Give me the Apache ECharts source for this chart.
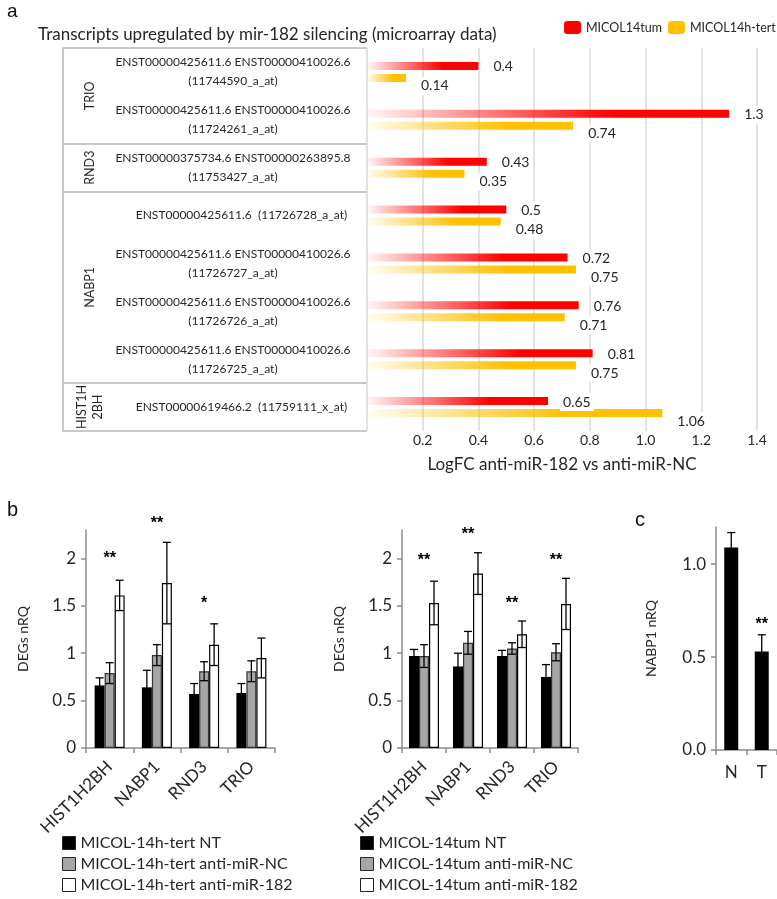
<!DOCTYPE html>
<html>
<head>
<meta charset="utf-8">
<script src="https://cdn.jsdelivr.net/npm/echarts@6/dist/echarts.min.js"></script>
<style>
html, body { margin: 0; padding: 0; background: #fff; }
#main { width: 777px; height: 899px; }
</style>
</head>
<body>
<div id="main"></div>
<script>
// panel a: microarray logFC
var transcripts = [
    'ENST00000425611.6 ENST00000410026.6\n(11744590_a_at)',
    'ENST00000425611.6 ENST00000410026.6\n(11724261_a_at)',
    'ENST00000375734.6 ENST00000263895.8\n(11753427_a_at)',
    'ENST00000425611.6  (11726728_a_at)',
    'ENST00000425611.6 ENST00000410026.6\n(11726727_a_at)',
    'ENST00000425611.6 ENST00000410026.6\n(11726726_a_at)',
    'ENST00000425611.6 ENST00000410026.6\n(11726725_a_at)',
    'ENST00000619466.2  (11759111_x_at)'
];
var groupNames = ['TRIO', 'RND3', 'NABP1', 'HIST1H\n2BH'];
var groupSizes = [2, 1, 4, 1];
var tumLogFC = [0.4, 1.3, 0.43, 0.5, 0.72, 0.76, 0.81, 0.65];
var tertLogFC = [0.14, 0.74, 0.35, 0.48, 0.75, 0.71, 0.75, 1.06];
var fcTicks = [0.2, 0.4, 0.6, 0.8, 1.0, 1.2, 1.4];

// panel b: qPCR
var degGenes = ['HIST1H2BH', 'NABP1', 'RND3', 'TRIO'];
var nrqTicks = [0, 0.5, 1, 1.5, 2];
var tertNT = [0.66, 0.64, 0.57, 0.58];
var tertNTErr = [0.08, 0.18, 0.11, 0.10];
var tertNC = [0.79, 0.98, 0.81, 0.81];
var tertNCErr = [0.11, 0.11, 0.10, 0.11];
var tert182 = [1.61, 1.74, 1.09, 0.95];
var tert182Err = [0.16, 0.43, 0.22, 0.21];
var tertStars = ['**', '**', '*', ''];
var tertStarY = [2.03, 2.40, 1.55, null];

var tumNT = [0.97, 0.86, 0.97, 0.75];
var tumNTErr = [0.07, 0.14, 0.06, 0.13];
var tumNC = [0.97, 1.11, 1.05, 1.01];
var tumNCErr = [0.12, 0.12, 0.06, 0.09];
var tum182 = [1.53, 1.84, 1.20, 1.52];
var tum182Err = [0.23, 0.22, 0.14, 0.27];
var tumStars = ['**', '**', '**', '**'];
var tumStarY = [2.01, 2.28, 1.55, 2.01];

// panel c
var tissues = ['N', 'T'];
var nabpValues = [1.09, 0.53];
var nabpErr = [0.08, 0.09];
var nabpStars = ['', '**'];
var nabpStarY = [null, 0.69];
var nabpTicks = [0, 0.5, 1.0];

var FONT = 'Lato, "Open Sans", sans-serif';
var TXT = '#262626';
var AXIS_GRAY = '#8c8c8c';

var groupStarts = [];
var groupCenters = [];
var acc = 0;
for (var i = 0; i < groupSizes.length; i++) {
    groupStarts.push(acc);
    groupCenters.push(acc + groupSizes[i] / 2);
    acc += groupSizes[i];
}

function fade(color, soft) {
    return new echarts.graphic.LinearGradient(0, 0, 1, 0, [
        {offset: 0, color: soft},
        {offset: 0.68, color: color},
        {offset: 1, color: color}
    ]);
}

function errorBars(axisIdx, values, errs, shift) {
    return {
        type: 'custom',
        xAxisIndex: axisIdx,
        yAxisIndex: axisIdx + 1,
        z: 5,
        clip: false,
        silent: true,
        data: values.map(function (v, i) { return [i, v, errs[i]]; }),
        renderItem: function (params, api) {
            var x = api.value(0), v = api.value(1), e = api.value(2);
            var hi = api.coord([x, v + e]);
            var lo = api.coord([x, v - e]);
            var px = hi[0] + shift;
            var st = {stroke: '#000', lineWidth: 1.3};
            return {
                type: 'group',
                children: [
                    {type: 'line', shape: {x1: px, y1: hi[1], x2: px, y2: lo[1]}, style: st},
                    {type: 'line', shape: {x1: px - 4, y1: hi[1], x2: px + 4, y2: hi[1]}, style: st},
                    {type: 'line', shape: {x1: px - 4, y1: lo[1], x2: px + 4, y2: lo[1]}, style: st}
                ]
            };
        }
    };
}

function starSeries(axisIdx, stars, starY) {
    var items = [];
    stars.forEach(function (s, i) {
        if (s) items.push({idx: i, y: starY[i], text: s});
    });
    return {
        type: 'custom',
        xAxisIndex: axisIdx,
        yAxisIndex: axisIdx + 1,
        z: 6,
        clip: false,
        silent: true,
        data: items.map(function (d) { return [d.idx, d.y]; }),
        renderItem: function (params, api) {
            var p = api.coord([api.value(0), api.value(1)]);
            return {
                type: 'text',
                x: p[0],
                y: p[1] + 3,
                style: {
                    text: items[params.dataIndex].text,
                    align: 'center',
                    verticalAlign: 'middle',
                    font: 'bold 16px "Liberation Sans"',
                    fill: '#000'
                }
            };
        }
    };
}

function qpcrBars(axisIdx, name, values, color, border) {
    return {
        type: 'bar',
        name: name,
        xAxisIndex: axisIdx,
        yAxisIndex: axisIdx + 1,
        data: values,
        barWidth: 10,
        barGap: '0%',
        itemStyle: {color: color, borderColor: border, borderWidth: border ? 1.2 : 0}
    };
}

function nrqYAxis(gridIdx, max, ticks, name, nameGap, digits) {
    return {
        type: 'value',
        gridIndex: gridIdx,
        min: 0,
        max: max,
        name: name,
        nameLocation: 'middle',
        nameGap: nameGap,
        nameRotate: 90,
        nameTextStyle: {fontSize: 14, color: TXT, fontFamily: FONT},
        axisLine: {show: true, lineStyle: {color: AXIS_GRAY, width: 1.5}},
        axisTick: {show: true, length: 5, customValues: ticks, lineStyle: {color: AXIS_GRAY, width: 1.5}},
        splitLine: {show: false},
        axisLabel: {
            customValues: ticks,
            fontSize: 17,
            color: TXT,
            margin: 10,
            formatter: function (v) { return digits ? v.toFixed(digits) : String(v); }
        }
    };
}

function catXAxis(gridIdx, data, rotate, margin) {
    return {
        type: 'category',
        gridIndex: gridIdx,
        data: data,
        axisLine: {show: true, lineStyle: {color: AXIS_GRAY, width: 1.5}},
        axisTick: {show: true, length: 5, lineStyle: {color: AXIS_GRAY, width: 1.5}},
        axisLabel: {rotate: rotate, fontSize: 17, color: TXT, margin: margin, interval: 0}
    };
}

function qpcrLegend(names, left) {
    return {
        data: names,
        orient: 'vertical', left: left, top: 835, padding: 0,
        itemWidth: 13, itemHeight: 13, itemGap: 5, icon: 'rect',
        itemStyle: {borderColor: '#222', borderWidth: 1},
        textStyle: {fontSize: 16, color: TXT, fontFamily: FONT}
    };
}

var chart = echarts.init(document.getElementById('main'));

var option = {
    animation: false,
    backgroundColor: '#fff',
    textStyle: {fontFamily: FONT, color: TXT},
    title: [
        {text: 'a', left: 2, top: -3, textStyle: {fontSize: 19, fontWeight: 'normal', fontFamily: 'Liberation Sans', color: '#111'}},
        {text: 'Transcripts upregulated by mir-182 silencing (microarray data)', left: 33, top: 21,
            textStyle: {fontSize: 17, fontWeight: 'normal', fontFamily: FONT, color: TXT}},
        {text: 'b', left: 2, top: 495, textStyle: {fontSize: 20, fontWeight: 'normal', fontFamily: 'Liberation Sans', color: '#111'}},
        {text: 'c', left: 630, top: 505, textStyle: {fontSize: 20, fontWeight: 'normal', fontFamily: 'Liberation Sans', color: '#111'}}
    ],
    legend: [
        {
            data: [
                {name: 'MICOL14tum', itemStyle: {color: '#ff0000'}},
                {name: 'MICOL14h-tert', itemStyle: {color: '#ffc000'}}
            ],
            left: 564, top: 21, padding: 0, itemWidth: 17, itemHeight: 13, itemGap: 6, icon: 'roundRect',
            textStyle: {fontSize: 12.5, color: TXT, fontFamily: FONT}
        },
        qpcrLegend(['MICOL-14h-tert NT', 'MICOL-14h-tert anti-miR-NC', 'MICOL-14h-tert anti-miR-182'], 62),
        qpcrLegend(['MICOL-14tum NT', 'MICOL-14tum anti-miR-NC', 'MICOL-14tum anti-miR-182'], 360)
    ],
    grid: [
        {left: 367, top: 48, width: 390, height: 383},
        {left: 63, top: 48, width: 304, height: 383},
        {left: 86, top: 530, width: 189, height: 218},
        {left: 402, top: 530, width: 176, height: 218},
        {left: 716, top: 527, width: 61, height: 223}
    ],
    xAxis: [
        {
            type: 'value', gridIndex: 0, min: 0, max: 1.4, interval: 0.2,
            axisLine: {show: false}, axisTick: {show: false},
            splitLine: {show: true, lineStyle: {color: '#d9d9d9', width: 1.5}},
            axisLabel: {
                customValues: fcTicks, fontSize: 14, color: TXT, margin: 2,
                formatter: function (v) { return v.toFixed(1); }
            },
            name: 'LogFC anti-miR-182 vs anti-miR-NC', nameLocation: 'middle', nameGap: 25,
            nameTextStyle: {fontSize: 17, color: TXT, fontFamily: FONT}
        },
        {type: 'value', gridIndex: 1, min: 0, max: 1, show: false},
        catXAxis(2, degGenes, 45, 16),
        catXAxis(3, degGenes, 45, 16),
        catXAxis(4, tissues, 0, 14)
    ],
    yAxis: [
        {
            type: 'category', gridIndex: 0, data: transcripts, inverse: true,
            axisLine: {show: false}, axisTick: {show: false},
            axisLabel: {
                margin: 134, align: 'center', fontSize: 12, lineHeight: 19, color: TXT,
                formatter: function (v) {
                    return v.indexOf('\n') < 0 ? '{one|' + v + '}' : v;
                },
                rich: {one: {padding: [0, 0, 0, 17], fontSize: 12, color: TXT, fontFamily: FONT}}
            }
        },
        {
            type: 'category', gridIndex: 1, data: transcripts, inverse: true, position: 'right',
            axisLine: {show: true, lineStyle: {color: '#c8c8c8', width: 2}},
            axisTick: {show: false}, axisLabel: {show: false},
            splitLine: {
                show: true,
                interval: function (index) { return groupStarts.indexOf(index) >= 0; },
                lineStyle: {color: '#c8c8c8', width: 2}
            }
        },
        {
            type: 'value', gridIndex: 1, min: 0, max: transcripts.length, inverse: true,
            position: 'left', offset: -27,
            axisLine: {show: false}, axisTick: {show: false}, splitLine: {show: false},
            axisLabel: {
                customValues: groupCenters, rotate: 90, margin: 0, align: 'center', verticalAlign: 'middle',
                fontSize: 12.5, lineHeight: 16, color: TXT,
                formatter: function (v) {
                    var k = groupCenters.indexOf(v);
                    return k >= 0 ? groupNames[k] : '';
                }
            }
        },
        nrqYAxis(2, 2.3, nrqTicks, 'DEGs nRQ', 56, 0),
        nrqYAxis(3, 2.3, nrqTicks, 'DEGs nRQ', 56, 0),
        nrqYAxis(4, 1.2, nabpTicks, 'NABP1 nRQ', 58, 1)
    ],
    series: [
        {
            type: 'bar', name: 'MICOL14tum', xAxisIndex: 0, yAxisIndex: 0,
            data: tumLogFC, barWidth: 8, barGap: '50%',
            itemStyle: {color: fade('#ff0000', 'rgba(255,0,0,0.03)')},
            label: {
                show: true, position: 'right', distance: 12, offset: [0, 1],
                backgroundColor: '#fff', padding: [2, 3], fontSize: 14, color: TXT, fontFamily: FONT
            }
        },
        {
            type: 'bar', name: 'MICOL14h-tert', xAxisIndex: 0, yAxisIndex: 0,
            data: tertLogFC, barWidth: 8, barGap: '50%',
            itemStyle: {color: fade('#ffc000', 'rgba(255,192,0,0.04)')},
            label: {
                show: true, position: 'right', distance: 12, offset: [0, 8],
                backgroundColor: '#fff', padding: [2, 3], fontSize: 14, color: TXT, fontFamily: FONT
            }
        },
        qpcrBars(2, 'MICOL-14h-tert NT', tertNT, '#000', null),
        qpcrBars(2, 'MICOL-14h-tert anti-miR-NC', tertNC, '#a6a6a6', '#333'),
        qpcrBars(2, 'MICOL-14h-tert anti-miR-182', tert182, '#fff', '#000'),
        errorBars(2, tertNT, tertNTErr, -10),
        errorBars(2, tertNC, tertNCErr, 0),
        errorBars(2, tert182, tert182Err, 10),
        starSeries(2, tertStars, tertStarY),
        qpcrBars(3, 'MICOL-14tum NT', tumNT, '#000', null),
        qpcrBars(3, 'MICOL-14tum anti-miR-NC', tumNC, '#a6a6a6', '#333'),
        qpcrBars(3, 'MICOL-14tum anti-miR-182', tum182, '#fff', '#000'),
        errorBars(3, tumNT, tumNTErr, -10),
        errorBars(3, tumNC, tumNCErr, 0),
        errorBars(3, tum182, tum182Err, 10),
        starSeries(3, tumStars, tumStarY),
        {
            type: 'bar', name: 'NABP1', xAxisIndex: 4, yAxisIndex: 5,
            data: nabpValues, barWidth: 14, itemStyle: {color: '#000'}
        },
        errorBars(4, nabpValues, nabpErr, 0),
        starSeries(4, nabpStars, nabpStarY)
    ]
};

chart.setOption(option);
</script>
</body>
</html>
